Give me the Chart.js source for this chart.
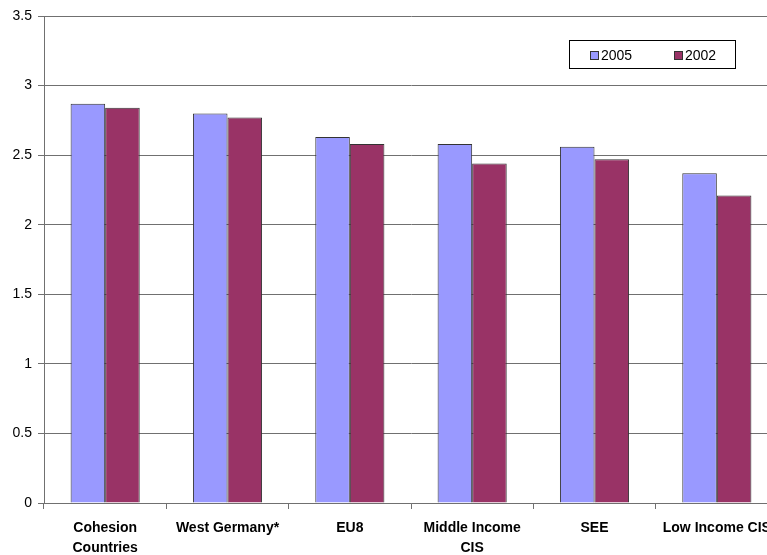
<!DOCTYPE html>
<html>
<head>
<meta charset="utf-8">
<script src="https://cdn.jsdelivr.net/npm/chart.js@4/dist/chart.umd.min.js"></script>
<style>
  html, body { margin: 0; padding: 0; background: #fff; overflow: hidden; }
  #wrap { width: 790px; height: 555px; position: relative; }
</style>
</head>
<body>
<div id="wrap"><canvas id="c"></canvas></div>
<script>
const categories = [
  ['Cohesion', 'Countries'],
  'West Germany*',
  'EU8',
  ['Middle Income', 'CIS'],
  'SEE',
  'Low Income CIS'
];
const values2005 = [2.87, 2.80, 2.63, 2.58, 2.56, 2.37];
const values2002 = [2.84, 2.77, 2.58, 2.44, 2.47, 2.21];
const yTicks = [0, 0.5, 1, 1.5, 2, 2.5, 3, 3.5];

const FONT = '"Liberation Sans", Arial, sans-serif';
const AXIS = '#707070';

// Boxed legend drawn inside the plot area, upper right
const boxLegend = {
  id: 'boxLegend',
  afterDraw(chart) {
    const ctx = chart.ctx;
    ctx.save();
    ctx.strokeStyle = '#000';
    ctx.lineWidth = 1;
    ctx.strokeRect(569.5, 40.5, 166, 28);
    ctx.font = '14px ' + FONT;
    ctx.textBaseline = 'middle';
    const xs = [590, 674];
    chart.data.datasets.forEach((ds, i) => {
      ctx.fillStyle = ds.backgroundColor;
      ctx.fillRect(xs[i] + 0.5, 51.5, 8, 8);
      ctx.strokeStyle = '#333';
      ctx.strokeRect(xs[i] + 0.5, 51.5, 8, 8);
      ctx.fillStyle = '#000';
      ctx.fillText(ds.label, xs[i] + 11, 56);
    });
    ctx.restore();
  }
};

new Chart(document.getElementById('c'), {
  type: 'bar',
  data: {
    labels: categories,
    datasets: [
      { label: '2005', data: values2005, backgroundColor: '#9999FF', borderColor: '#333333', borderWidth: 1 },
      { label: '2002', data: values2002, backgroundColor: '#993366', borderColor: '#333333', borderWidth: 1 }
    ]
  },
  options: {
    responsive: true,
    maintainAspectRatio: false,
    animation: false,
    layout: { padding: { top: 16, right: 12, left: 0, bottom: 0 } },
    datasets: { bar: { categoryPercentage: 0.565, barPercentage: 1.0 } },
    plugins: {
      legend: { display: false },
      tooltip: { enabled: false }
    },
    scales: {
      x: {
        offset: true,
        grid: { offset: true, drawOnChartArea: false, drawTicks: true, tickLength: 6, color: AXIS },
        border: { display: true, color: AXIS, width: 1 },
        ticks: {
          color: '#000',
          font: { family: FONT, size: 14, weight: 'bold', lineHeight: 1.43 },
          padding: 9,
          maxRotation: 0,
          autoSkip: false
        },
        afterFit(scale) { scale.height = 52; }
      },
      y: {
        min: 0,
        max: 3.5,
        afterBuildTicks(scale) { scale.ticks = yTicks.map(v => ({ value: v })); },
        grid: { color: AXIS, drawTicks: true, tickLength: 6 },
        border: { display: true, color: AXIS, width: 1 },
        ticks: {
          color: '#000',
          font: { family: FONT, size: 14 },
          padding: 6,
          callback: v => String(v)
        },
        afterFit(scale) { scale.width = 44; }
      }
    }
  },
  plugins: [boxLegend]
});
</script>
</body>
</html>
